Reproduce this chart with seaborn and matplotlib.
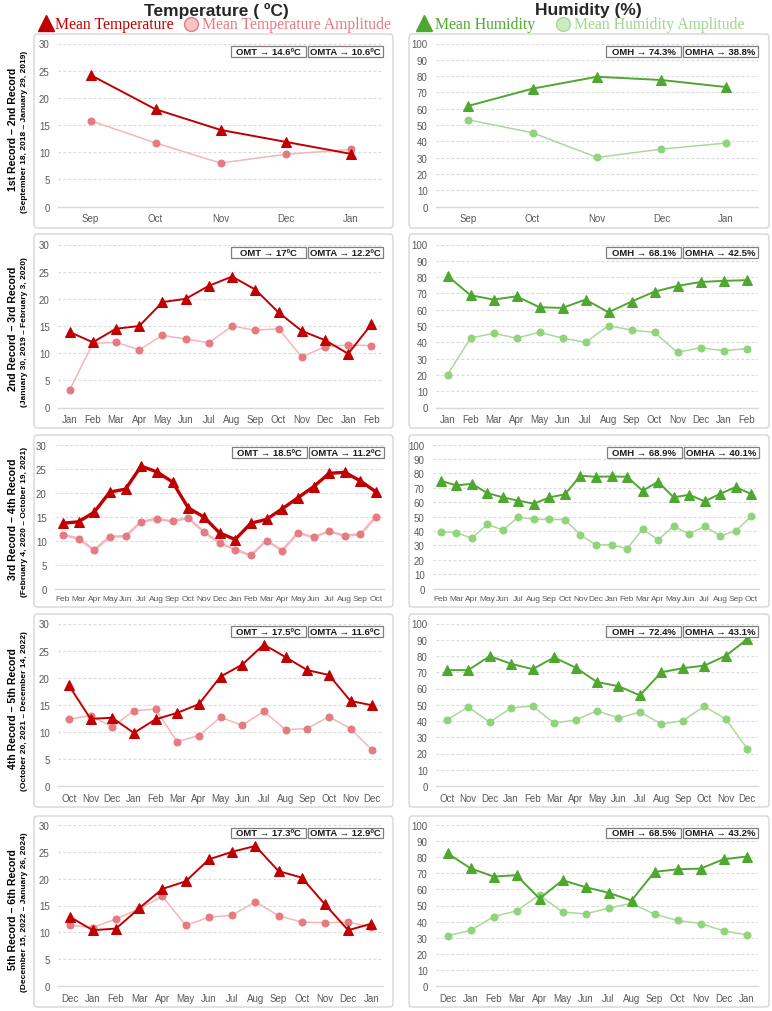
import numpy as np
import pandas as pd
import matplotlib
matplotlib.use("Agg")
import matplotlib.pyplot as plt
import seaborn as sns
from matplotlib.patches import FancyBboxPatch, Rectangle
from matplotlib.lines import Line2D

sns.set_theme(style="white")
plt.rcParams["font.family"] = ["Liberation Sans", "DejaVu Sans"]

# ---------------- data ----------------
months_1 = ["Sep", "Oct", "Nov", "Dec", "Jan"]
temp_mean_1 = [24.2, 17.9, 14.1, 11.9, 9.7]
temp_amp_1 = [15.8, 11.7, 8.0, 9.6, 10.5]
hum_mean_1 = [61.7, 72.3, 79.6, 77.6, 73.3]
hum_amp_1 = [53.2, 45.2, 30.1, 35.2, 38.9]

months_2 = ["Jan", "Feb", "Mar", "Apr", "May", "Jun", "Jul", "Aug", "Sep", "Oct", "Nov", "Dec", "Jan", "Feb"]
temp_mean_2 = [13.9, 12.0, 14.5, 15.0, 19.4, 20.0, 22.4, 24.1, 21.7, 17.5, 14.1, 12.4, 9.9, 15.3]
temp_amp_2 = [3.2, 11.8, 12.0, 10.6, 13.3, 12.6, 11.9, 15.0, 14.2, 14.5, 9.3, 11.2, 11.5, 11.4]
hum_mean_2 = [80.7, 68.9, 66.2, 68.2, 61.5, 61.1, 66.2, 58.4, 65.0, 71.1, 74.6, 77.0, 77.7, 78.1]
hum_amp_2 = [20.1, 42.6, 45.5, 42.6, 46.1, 42.6, 40.0, 50.2, 47.5, 46.1, 33.8, 36.7, 34.8, 36.1]

months_3 = ["Feb", "Mar", "Apr", "May", "Jun", "Jul", "Aug", "Sep", "Oct", "Nov", "Dec",
            "Jan", "Feb", "Mar", "Apr", "May", "Jun", "Jul", "Aug", "Sep", "Oct"]
temp_mean_3 = [13.6, 13.9, 15.9, 20.1, 20.7, 25.5, 24.3, 22.2, 16.8, 14.9, 11.6,
               10.2, 13.6, 14.4, 16.6, 18.9, 21.2, 24.0, 24.2, 22.4, 20.1]
temp_amp_3 = [11.2, 10.4, 8.0, 10.8, 10.9, 13.9, 14.5, 14.0, 14.7, 11.8, 9.5,
              8.1, 6.9, 10.0, 7.9, 11.6, 10.7, 11.9, 11.0, 11.3, 15.0]
hum_mean_3 = [74.8, 71.6, 72.7, 66.3, 63.3, 61.0, 58.9, 63.3, 65.4, 78.3, 77.6,
              77.8, 77.6, 67.9, 74.1, 63.3, 65.1, 60.5, 65.8, 70.4, 65.6]
hum_amp_3 = [39.3, 38.8, 34.9, 44.6, 40.6, 49.7, 48.0, 48.0, 47.8, 37.2, 30.3,
             30.3, 27.7, 41.1, 33.9, 43.2, 37.9, 43.2, 36.5, 40.0, 50.1]

months_4 = ["Oct", "Nov", "Dec", "Jan", "Feb", "Mar", "Apr", "May", "Jun", "Jul", "Aug", "Sep", "Oct", "Nov", "Dec"]
temp_mean_4 = [18.6, 12.4, 12.6, 9.8, 12.3, 13.5, 15.1, 20.2, 22.4, 26.1, 23.8, 21.4, 20.5, 15.7, 14.9]
temp_amp_4 = [12.3, 13.0, 10.9, 13.9, 14.2, 8.2, 9.3, 12.7, 11.2, 13.8, 10.4, 10.6, 12.8, 10.6, 6.6]
hum_mean_4 = [71.3, 71.3, 79.9, 75.2, 71.9, 79.1, 72.9, 64.0, 61.4, 55.8, 70.0, 72.5, 74.1, 80.1, 90.4]
hum_amp_4 = [40.6, 48.6, 39.3, 48.0, 49.2, 38.7, 40.6, 46.3, 41.8, 45.5, 38.1, 40.2, 49.0, 41.2, 22.9]

months_5 = ["Dec", "Jan", "Feb", "Mar", "Apr", "May", "Jun", "Jul", "Aug", "Sep", "Oct", "Nov", "Dec", "Jan"]
temp_mean_5 = [12.9, 10.4, 10.7, 14.5, 18.1, 19.5, 23.6, 25.0, 26.1, 21.4, 20.2, 15.2, 10.4, 11.6]
temp_amp_5 = [11.3, 10.9, 12.5, 14.4, 16.7, 11.3, 12.8, 13.2, 15.7, 13.1, 11.9, 11.8, 11.9, 11.0]
hum_mean_5 = [82.4, 73.1, 68.0, 68.8, 54.3, 65.7, 61.4, 57.9, 53.1, 70.9, 72.5, 72.9, 78.7, 80.4]
hum_amp_5 = [31.2, 34.5, 43.0, 46.7, 56.6, 45.9, 44.8, 48.3, 51.4, 44.6, 40.7, 38.8, 34.3, 31.8]

omt_labels = ["OMT → 14.6ºC", "OMT → 17ºC", "OMT → 18.5ºC", "OMT → 17.5ºC", "OMT → 17.3ºC"]
omta_labels = ["OMTA → 10.6ºC", "OMTA → 12.2ºC", "OMTA → 11.2ºC", "OMTA → 11.6ºC", "OMTA → 12.9ºC"]
omh_labels = ["OMH → 74.3%", "OMH → 68.1%", "OMH → 68.9%", "OMH → 72.4%", "OMH → 68.5%"]
omha_labels = ["OMHA → 38.8%", "OMHA → 42.5%", "OMHA → 40.1%", "OMHA → 43.1%", "OMHA → 43.2%"]

row_titles = ["1st Record – 2nd Record", "2nd Record – 3rd Record", "3rd Record – 4th Record",
              "4th Record – 5th Record", "5th Record – 6th Record"]
row_subtitles = ["(September 18, 2018 – January 29, 2019)", "(January 30, 2019 – February 3, 2020)",
                 "(February 4, 2020 – October 19, 2021)", "(October 20, 2021 – December 14, 2022)",
                 "(December 15, 2022 – January 26, 2024)"]

months = [months_1, months_2, months_3, months_4, months_5]
temp_means = [temp_mean_1, temp_mean_2, temp_mean_3, temp_mean_4, temp_mean_5]
temp_amps = [temp_amp_1, temp_amp_2, temp_amp_3, temp_amp_4, temp_amp_5]
hum_means = [hum_mean_1, hum_mean_2, hum_mean_3, hum_mean_4, hum_mean_5]
hum_amps = [hum_amp_1, hum_amp_2, hum_amp_3, hum_amp_4, hum_amp_5]

# ---------------- style ----------------
RED = "#C00000"
RED_L_LINE = "#F4B6B9"
RED_L_MK = "#E57A80"
GRN = "#4EA72E"
GRN_L_LINE = "#A9DA98"
GRN_L_MK = "#8FD37A"
GRID = "#D9D9D9"
TICK = "#595959"

W, H = 772, 1012
fig = plt.figure(figsize=(W / 100, H / 100), dpi=100)
fig.patch.set_facecolor("white")


def fx(x):
    return x / W


def fy(y):
    return 1 - y / H


panel_rows = [(35, 229), (235, 429), (436, 608), (615, 808), (817, 1008)]
plot_rows = [(44.5, 207.5), (245.5, 408.5), (445.5, 589.5), (624.5, 787), (826, 987)]
left_box = (34, 393)
right_box = (409, 769)

for (t, b) in panel_rows:
    for (x0, x1) in (left_box, right_box):
        p = FancyBboxPatch((fx(x0), fy(b)), fx(x1 - x0), (b - t) / H,
                           boxstyle="round,pad=0,rounding_size=0.004",
                           transform=fig.transFigure, facecolor="white",
                           edgecolor="#D6D6D6", linewidth=1.0, zorder=0)
        fig.add_artist(p)


def add_box_label(x0, x1, y0, y1, text):
    r = Rectangle((fx(x0), fy(y1)), fx(x1 - x0), (y1 - y0) / H, transform=fig.transFigure,
                  facecolor="white", edgecolor="#7F7F7F", linewidth=0.9, zorder=5)
    fig.add_artist(r)
    fig.text(fx((x0 + x1) / 2), fy((y0 + y1) / 2), text, ha="center", va="center",
             fontsize=6.8, fontweight="bold", color="#1A1A1A", zorder=6,
             family=["Liberation Sans", "DejaVu Sans"])


def draw_panel(ax, labels, mean, amp, kind, thick):
    n = len(labels)
    pos = np.arange(n)
    df = pd.DataFrame({"pos": pos, "mean": mean, "amp": amp})
    if kind == "temp":
        cm, cl, ck = RED, RED_L_LINE, RED_L_MK
        ymax, step = 30, 5
    else:
        cm, cl, ck = GRN, GRN_L_LINE, GRN_L_MK
        ymax, step = 100, 10
    lw_m = 2.4 if thick else 1.4
    lw_a = 1.8 if thick else 1.1
    sns.lineplot(data=df, x="pos", y="amp", ax=ax, color=cl, linewidth=lw_a, marker="o",
                 markersize=5, markerfacecolor=ck, markeredgecolor=ck, zorder=3, clip_on=False)
    sns.lineplot(data=df, x="pos", y="mean", ax=ax, color=cm, linewidth=lw_m, marker="^",
                 markersize=7.8, markerfacecolor=cm, markeredgecolor=cm, zorder=4, clip_on=False)
    ax.set_xlim(-0.5, n - 0.5)
    ax.set_ylim(0, ymax)
    ax.set_yticks(np.arange(0, ymax + 1, step))
    ax.set_xticks(pos)
    ax.set_xticklabels(labels)
    ax.set_xlabel("")
    ax.set_ylabel("")
    for s in ("top", "right", "left"):
        ax.spines[s].set_visible(False)
    ax.spines["bottom"].set_color(GRID)
    ax.spines["bottom"].set_linewidth(1.0)
    ax.yaxis.grid(True, linestyle=(0, (2.5, 2)), color=GRID, linewidth=0.8)
    ax.xaxis.grid(False)
    ax.set_axisbelow(True)
    fs = 6.0 if n > 16 else 7
    ax.tick_params(axis="x", length=0, pad=5, labelsize=fs, labelcolor=TICK)
    ax.tick_params(axis="y", length=0, pad=6, labelsize=7, labelcolor=TICK)
    ax.patch.set_alpha(0)


for i in range(5):
    t, b = plot_rows[i]
    thick = (i == 2)
    lx0, lx1 = (55, 384) if thick else (58, 383)
    rx0, rx1 = (433, 759) if thick else (436, 758)
    axl = fig.add_axes([fx(lx0), fy(b), fx(lx1 - lx0), (b - t) / H])
    draw_panel(axl, months[i], temp_means[i], temp_amps[i], "temp", thick)
    axr = fig.add_axes([fx(rx0), fy(b), fx(rx1 - rx0), (b - t) / H])
    draw_panel(axr, months[i], hum_means[i], hum_amps[i], "hum", False)
    by0, by1 = t + 2.5, t + 13
    add_box_label(lx1 - 152, lx1 - 77, by0, by1, omt_labels[i])
    add_box_label(lx1 - 75, lx1, by0, by1, omta_labels[i])
    add_box_label(rx1 - 152, rx1 - 77, by0, by1, omh_labels[i])
    add_box_label(rx1 - 75, rx1, by0, by1, omha_labels[i])
    pt, pb = panel_rows[i]
    cy = (pt + pb) / 2
    fig.text(fx(13), fy(cy - 3), row_titles[i], rotation=90, ha="center", va="center",
             fontsize=7.6, fontweight="bold", color="black",
             family=["Liberation Sans", "DejaVu Sans"])
    fig.text(fx(25), fy(cy), row_subtitles[i], rotation=90, ha="center", va="center",
             fontsize=6.0, fontweight="bold", color="black",
             family=["Liberation Sans", "DejaVu Sans"])

# ---------------- headers ----------------
fig.text(fx(216), fy(11), "Temperature ( ºC)", ha="center", va="center", fontsize=12.5,
         fontweight="bold", family=["Liberation Sans", "DejaVu Sans"])
fig.text(fx(588), fy(11), "Humidity (%)", ha="center", va="center", fontsize=12.5,
         fontweight="bold", family=["Liberation Sans", "DejaVu Sans"])

leg_y = 25
serif = ["Liberation Serif", "DejaVu Serif"]


def legend_marker(x, y, marker, face, edge, size):
    fig.add_artist(Line2D([fx(x)], [fy(y)], marker=marker, markersize=size, markerfacecolor=face,
                          markeredgecolor=edge, linestyle="none", transform=fig.transFigure))


legend_marker(46, leg_y - 1, "^", RED, RED, 11)
fig.text(fx(55), fy(leg_y), "Mean Temperature", ha="left", va="center", fontsize=11.3,
         color=RED, family=serif)
legend_marker(191, leg_y - 0.5, "o", "#F6C4C6", "#E57A80", 10)
fig.text(fx(202), fy(leg_y), "Mean Temperature Amplitude", ha="left", va="center", fontsize=11.3,
         color="#E8797F", family=serif)
legend_marker(424, leg_y - 1, "^", GRN, GRN, 11)
fig.text(fx(435), fy(leg_y), "Mean Humidity", ha="left", va="center", fontsize=11.3,
         color=GRN, family=serif)
legend_marker(563, leg_y - 0.5, "o", "#CDEBC2", "#A9DA98", 10)
fig.text(fx(574), fy(leg_y), "Mean Humidity Amplitude", ha="left", va="center", fontsize=11.3,
         color="#9FD58C", family=serif)

fig.savefig("out.png", dpi=100, facecolor="white")
